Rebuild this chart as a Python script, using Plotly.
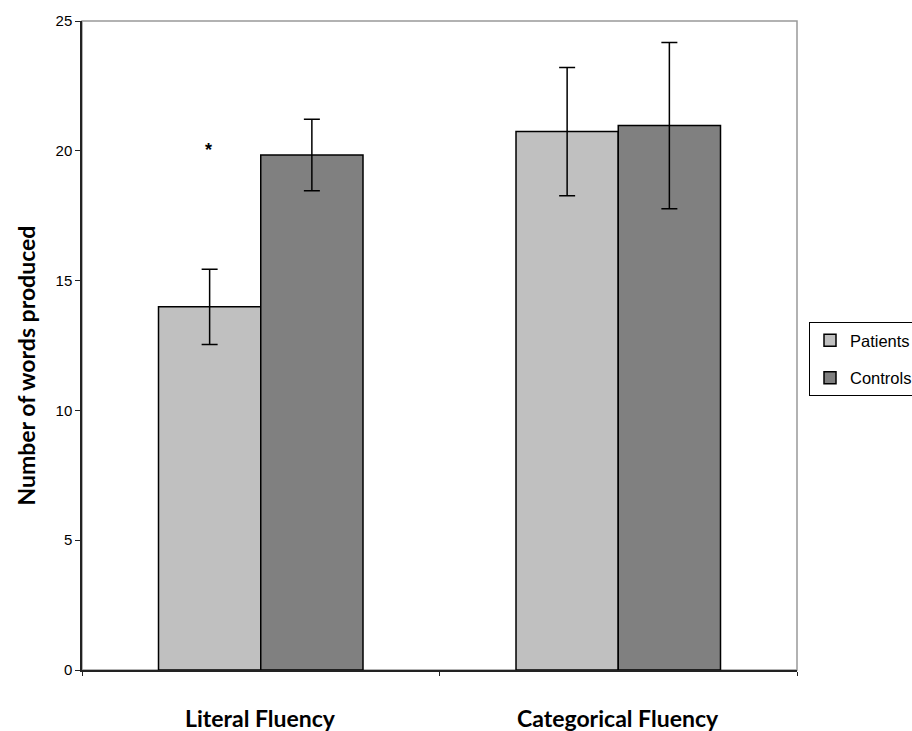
import plotly.graph_objects as go

categories = ["Literal Fluency", "Categorical Fluency"]
patients = [13.99, 20.74]
patients_err = [1.45, 2.47]
controls = [19.84, 20.97]
controls_err = [1.38, 3.2]
y_ticks = [0, 5, 10, 15, 20, 25]
y_title = "Number of words produced"

fig = go.Figure()
fig.add_trace(go.Bar(
    name="Patients", x=categories, y=patients, legendgroup="p",
    marker=dict(color="#C0C0C0", line=dict(color="black", width=1.5)),
    error_y=dict(type="data", array=patients_err, color="black", thickness=1.5, width=8),
))
fig.add_trace(go.Bar(
    name="Controls", x=categories, y=controls, legendgroup="c",
    marker=dict(color="#808080", line=dict(color="black", width=1.5)),
    error_y=dict(type="data", array=controls_err, color="black", thickness=1.5, width=8),
))

# significance marker above Literal Fluency patients bar
fig.add_annotation(x=categories[0], y=20, text="<b>*</b>", showarrow=False,
                   xshift=-52, yshift=1, font=dict(family="Liberation Sans", size=18, color="black"))

# category labels
for c in categories:
    fig.add_annotation(x=c, y=0, xref="x", yref="paper", yshift=-48, text="<b>" + c + "</b>",
                       showarrow=False, xanchor="center", yanchor="middle",
                       font=dict(family="Lato", size=23, color="black"))

# y axis title
fig.add_annotation(x=0, y=0.5, xref="paper", yref="paper", xshift=-57, yshift=-20,
                   text="<b>" + y_title + "</b>", textangle=-90, showarrow=False,
                   xanchor="center", yanchor="middle",
                   font=dict(family="Lato", size=23, color="black"))

fig.add_shape(type="rect", xref="paper", yref="paper", x0=0, y0=0, x1=1, y1=1,
              line=dict(color="#999999", width=1.5), layer="below")

fig.update_layout(
    width=912, height=731,
    margin=dict(l=82, r=110, t=16, b=61),
    paper_bgcolor="white", plot_bgcolor="white",
    barmode="group", bargap=0.428, bargroupgap=0,
    font=dict(family="Liberation Sans", color="black"),
    legend=dict(xref="container", yref="container", x=809 / 912, y=1 - 322 / 731,
                xanchor="left", yanchor="top",
                bordercolor="black", borderwidth=1, bgcolor="white",
                font=dict(family="Liberation Sans", size=16.5, color="black"),
                tracegroupgap=13, itemwidth=30),
    xaxis=dict(showline=True, linecolor="#222222", linewidth=1.5, ticks="outside",
               tickson="boundaries", ticklen=4, tickcolor="#222222",
               showticklabels=False, showgrid=False),
    yaxis=dict(range=[0, 25], tickvals=y_ticks, showline=True, linecolor="#222222",
               linewidth=1.5, ticks="outside", ticklen=5, tickcolor="#222222",
               tickfont=dict(family="Liberation Sans", size=15, color="black"),
               showgrid=False, zeroline=False),
)

fig.write_html("out.html")
